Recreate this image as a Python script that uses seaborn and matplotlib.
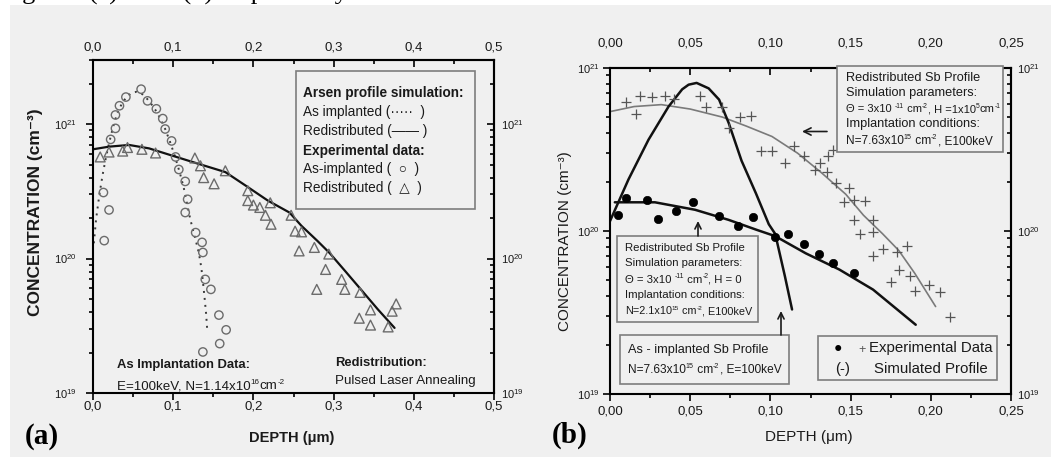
import numpy as np
import matplotlib
matplotlib.use("Agg")
import matplotlib.pyplot as plt
import seaborn as sns
from matplotlib.patches import Rectangle, FancyArrowPatch
from matplotlib.font_manager import FontProperties
from matplotlib.ticker import (FuncFormatter, LogLocator, NullFormatter,
                               MultipleLocator, LogFormatterSciNotation)

# ---------------- (a) arsenic profiles ----------------
# experimental, as-implanted (open circles)
a_impl_x = [0.014, 0.020, 0.013, 0.022, 0.028, 0.028, 0.033, 0.041, 0.060, 0.068,
            0.079, 0.087, 0.090, 0.098, 0.103, 0.107, 0.115, 0.118, 0.115, 0.128,
            0.136, 0.137, 0.140, 0.147, 0.157, 0.166, 0.158, 0.137]
a_impl_y = [1.36e20, 2.3e20, 3.1e20, 7.7e20, 9.3e20, 1.17e21, 1.37e21, 1.59e21, 1.82e21, 1.49e21,
            1.30e21, 1.10e21, 9.2e20, 7.5e20, 5.7e20, 4.6e20, 3.75e20, 2.76e20, 2.2e20, 1.56e20,
            1.32e20, 1.11e20, 7.0e19, 5.9e19, 3.8e19, 2.95e19, 2.33e19, 2.02e19]
# experimental, redistributed (open triangles)
a_redis_x = [0.009, 0.020, 0.037, 0.043, 0.061, 0.078, 0.127, 0.134, 0.138, 0.151,
             0.165, 0.193, 0.193, 0.200, 0.208, 0.221, 0.215, 0.222, 0.247, 0.252,
             0.260, 0.257, 0.276, 0.294, 0.290, 0.279, 0.310, 0.314, 0.333, 0.332,
             0.346, 0.346, 0.368, 0.373, 0.378]
a_redis_y = [5.7e20, 6.2e20, 6.3e20, 6.7e20, 6.5e20, 6.1e20, 5.6e20, 4.9e20, 4.0e20, 3.6e20,
             4.5e20, 3.2e20, 2.7e20, 2.5e20, 2.4e20, 2.6e20, 2.1e20, 1.8e20, 2.1e20, 1.6e20,
             1.58e20, 1.14e20, 1.21e20, 1.08e20, 8.3e19, 5.9e19, 7.0e19, 5.9e19, 5.6e19, 3.6e19,
             4.15e19, 3.2e19, 3.1e19, 4.06e19, 4.6e19]
# simulation, as implanted (dotted)
a_sim_impl_x = [0.001, 0.004, 0.008, 0.012, 0.016, 0.020, 0.025, 0.030, 0.036, 0.042,
                0.048, 0.054, 0.060, 0.066, 0.072, 0.078, 0.084, 0.090, 0.096, 0.102,
                0.108, 0.113, 0.117, 0.121, 0.125, 0.129, 0.132, 0.135, 0.137, 0.139,
                0.141, 0.1425]
a_sim_impl_y = [1.3e20, 2.0e20, 3.0e20, 4.2e20, 5.6e20, 7.2e20, 9.5e20, 1.2e21, 1.42e21, 1.6e21,
                1.7e21, 1.74e21, 1.7e21, 1.58e21, 1.43e21, 1.27e21, 1.1e21, 9.2e20, 7.4e20, 5.8e20,
                4.4e20, 3.4e20, 2.6e20, 2.0e20, 1.6e20, 1.3e20, 1.1e20, 8.6e19, 6.8e19, 5.2e19,
                3.9e19, 2.9e19]
# simulation, redistributed (solid)
a_sim_redis_x = [0.0, 0.02, 0.045, 0.07, 0.10, 0.13, 0.165, 0.19, 0.218, 0.245,
                 0.26, 0.28, 0.295, 0.315, 0.335, 0.355, 0.376]
a_sim_redis_y = [6.5e20, 6.8e20, 7.0e20, 6.6e20, 5.8e20, 5.1e20, 4.4e20, 3.5e20, 2.7e20, 2.2e20,
                 1.75e20, 1.35e20, 1.1e20, 8.0e19, 5.8e19, 4.2e19, 3.05e19]

# ---------------- (b) antimony profiles ----------------
b_dots_x = [0.005, 0.010, 0.023, 0.030, 0.041, 0.052, 0.068, 0.080, 0.089, 0.103,
            0.111, 0.121, 0.130, 0.139, 0.152]
b_dots_y = [1.26e20, 1.59e20, 1.56e20, 1.19e20, 1.32e20, 1.5e20, 1.24e20, 1.07e20, 1.22e20, 9.2e19,
            9.6e19, 8.3e19, 7.2e19, 6.4e19, 5.5e19]
b_cross_x = [0.010, 0.016, 0.019, 0.026, 0.034, 0.040, 0.056, 0.060, 0.070, 0.074,
             0.081, 0.088, 0.094, 0.101, 0.109, 0.115, 0.121, 0.128, 0.131, 0.135,
             0.136, 0.139, 0.141, 0.149, 0.146, 0.152, 0.159, 0.152, 0.164, 0.156,
             0.164, 0.164, 0.170, 0.179, 0.185, 0.180, 0.187, 0.175, 0.190, 0.199,
             0.206, 0.212]
b_cross_y = [6.15e20, 5.25e20, 6.7e20, 6.6e20, 6.7e20, 6.45e20, 6.7e20, 5.77e20, 5.77e20, 4.3e20,
             5.0e20, 5.1e20, 3.1e20, 3.1e20, 2.6e20, 3.3e20, 2.87e20, 2.38e20, 2.6e20, 2.3e20,
             2.87e20, 3.16e20, 1.97e20, 1.84e20, 1.5e20, 1.56e20, 1.52e20, 1.16e20, 1.16e20, 9.6e19,
             9.9e19, 7.0e19, 7.8e19, 7.4e19, 8.05e19, 5.8e19, 5.3e19, 4.87e19, 4.27e19, 4.64e19,
             4.2e19, 2.97e19]
b_impl_sim_x = [0.0, 0.0115, 0.024, 0.0365, 0.045, 0.049, 0.054, 0.0615, 0.068, 0.074,
                0.082, 0.091, 0.099, 0.103, 0.109, 0.1135]
b_impl_sim_y = [1.15e20, 2.07e20, 3.63e20, 5.8e20, 7.4e20, 7.9e20, 8.1e20, 7.5e20, 6.4e20, 4.6e20,
                2.7e20, 1.7e20, 1.1e20, 9.6e19, 5.3e19, 3.3e19]
b_h0_x = [0.003, 0.028, 0.053, 0.074, 0.091, 0.103, 0.122, 0.143, 0.164, 0.1906]
b_h0_y = [1.5e20, 1.5e20, 1.35e20, 1.17e20, 1.02e20, 9.3e19, 7.3e19, 5.8e19, 4.37e19, 2.66e19]
b_h_x = [0.0, 0.015, 0.032, 0.050, 0.070, 0.085, 0.101, 0.117, 0.132, 0.147,
         0.158, 0.170, 0.180, 0.190, 0.203]
b_h_y = [5.4e20, 5.8e20, 5.96e20, 5.6e20, 5.0e20, 4.4e20, 3.8e20, 3.0e20, 2.27e20, 1.68e20,
         1.25e20, 9.6e19, 7.6e19, 5.5e19, 3.44e19]

# ---------------- styling ----------------
sns.set_theme(style="ticks")
FAMILY = ["Liberation Sans", "DejaVu Sans"]
plt.rcParams["font.family"] = FAMILY
plt.rcParams["mathtext.fontset"] = "custom"
plt.rcParams["mathtext.rm"] = "Liberation Sans"
plt.rcParams["mathtext.it"] = "Liberation Sans:italic"
plt.rcParams["mathtext.bf"] = "Liberation Sans:bold"
plt.rcParams["mathtext.default"] = "regular"

BG = "#f0f0f0"
INK = "#1a1a1a"
W, H = 1051, 457
fig = plt.figure(figsize=(W / 100, H / 100), dpi=100)
fig.patch.set_facecolor("white")
renderer = fig.canvas.get_renderer()

M, S3 = "\u207b", "\u00b3"


def fx(px):
    return px / W


def fy(py):
    return 1 - py / H


fig.add_artist(Rectangle((fx(10), 0), 1, fy(5), transform=fig.transFigure,
                         facecolor=BG, edgecolor="none", zorder=-10))
fig.text(fx(0), fy(5), "Figure 2(a) and 2(b) respectively.", family="Liberation Serif",
         fontsize=19, va="bottom", ha="left", color="black")


def setup_axes(ax, xmax, xstep, xdec, ylim, pads):
    ax.set_facecolor(BG)
    ax.set_xlim(0, xmax)
    ax.set_yscale("log")
    ax.set_ylim(*ylim)
    fmt = FuncFormatter(lambda v, p: f"{v:.{xdec}f}".replace(".", ","))
    for sp in ax.spines.values():
        sp.set_linewidth(1.5)
        sp.set_color("black")
        sp.set_visible(True)
    ax.xaxis.set_major_locator(MultipleLocator(xstep))
    ax.xaxis.set_minor_locator(MultipleLocator(xstep / 2))
    ax.xaxis.set_major_formatter(fmt)
    ax.yaxis.set_major_locator(LogLocator(base=10, numticks=10))
    ax.yaxis.set_minor_locator(LogLocator(base=10, subs=np.arange(2, 10) * 1.0, numticks=10))
    ax.yaxis.set_minor_formatter(NullFormatter())
    ax.yaxis.set_major_formatter(LogFormatterSciNotation())
    ax.tick_params(which="both", direction="out", top=False, right=False,
                   width=1.2, color="black", labelcolor=INK)
    ax.tick_params(which="major", length=5)
    ax.tick_params(which="minor", length=3)
    ax.tick_params(axis="x", labelsize=9.5, pad=pads["bottom"])
    ax.tick_params(axis="y", labelsize=8, pad=pads["left"])

    sx = ax.secondary_xaxis("top")
    sx.xaxis.set_major_locator(MultipleLocator(xstep))
    sx.xaxis.set_minor_locator(MultipleLocator(xstep / 2))
    sx.xaxis.set_major_formatter(fmt)
    sx.tick_params(which="both", direction="in", width=1.2, color="black",
                   labelcolor=INK, labelsize=9.5, pad=pads["top"])
    sx.tick_params(which="major", length=5)
    sx.tick_params(which="minor", length=3)
    sx.spines["top"].set_linewidth(1.5)

    sy = ax.secondary_yaxis("right")
    sy.yaxis.set_major_locator(LogLocator(base=10, numticks=10))
    sy.yaxis.set_minor_locator(LogLocator(base=10, subs=np.arange(2, 10) * 1.0, numticks=10))
    sy.yaxis.set_major_formatter(LogFormatterSciNotation())
    sy.yaxis.set_minor_formatter(NullFormatter())
    sy.tick_params(which="both", direction="in", width=1.2, color="black",
                   labelcolor=INK, labelsize=8, pad=pads["right"])
    sy.tick_params(which="major", length=5)
    sy.tick_params(which="minor", length=3)
    sy.spines["right"].set_linewidth(1.5)
    ax.set_xlabel("")
    ax.set_ylabel("")


def box(x0, y0, x1, y1):
    fig.add_artist(Rectangle((fx(x0), fy(y1)), (x1 - x0) / W, (y1 - y0) / H,
                             transform=fig.transFigure, facecolor=BG,
                             edgecolor="#7d7d7d", linewidth=1.2, zorder=2.5))


def txt(px, py, s, **kw):
    kw.setdefault("ha", "left")
    kw.setdefault("va", "center")
    kw.setdefault("color", INK)
    kw.setdefault("zorder", 4)
    fig.text(fx(px), fy(py), s, **kw)


def _width(s, fp):
    w1, _, _ = renderer.get_text_width_height_descent("|" + s + "|", fp, ismath=False)
    w0, _, _ = renderer.get_text_width_height_descent("||", fp, ismath=False)
    return w1 - w0


def rich(px, py, s, fs, weight="normal"):
    """Text with ^{...} superscripts, laid out piece by piece; py is the line centre."""
    base = py + 0.33 * fs * 100 / 72
    x = px
    pieces = []
    for part in s.replace("}", "^").split("^{"):
        if "^" in part:
            sup, rest = part.split("^", 1)
            pieces.append((sup, True))
            if rest:
                pieces.append((rest, False))
        elif part:
            pieces.append((part, False))
    for piece, sup in pieces:
        size = fs * 0.6 if sup else fs
        fp = FontProperties(family=FAMILY, size=size, weight=weight)
        yy = base - (0.42 * fs * 100 / 72 if sup else 0)
        fig.text(fx(x), fy(yy), piece, fontproperties=fp, va="baseline", ha="left",
                 color=INK, zorder=4)
        x += _width(piece, fp)


def arrow(p0, p1, scale=11):
    fig.add_artist(FancyArrowPatch((fx(p0[0]), fy(p0[1])), (fx(p1[0]), fy(p1[1])),
                                   transform=fig.transFigure, arrowstyle="->",
                                   mutation_scale=scale, linewidth=1.2, color=INK,
                                   zorder=4, shrinkA=0, shrinkB=0))


# ---------------- panel (a) ----------------
ax_a = fig.add_axes([fx(93), fy(393), (494 - 93) / W, (393 - 60) / H])
ax_a.set_yscale("log")
sns.lineplot(x=a_sim_impl_x, y=a_sim_impl_y, ax=ax_a, sort=False, estimator=None,
             color="#3a3a3a", linewidth=1.4, linestyle=(0, (1, 2.6)))
sns.lineplot(x=a_sim_redis_x, y=a_sim_redis_y, ax=ax_a, sort=False, estimator=None,
             color="#111111", linewidth=1.6)
sns.scatterplot(x=a_impl_x, y=a_impl_y, ax=ax_a, marker="o", s=36,
                facecolor="none", edgecolor="#6b6b6b", linewidth=1.0, zorder=3)
sns.scatterplot(x=a_redis_x, y=a_redis_y, ax=ax_a, marker="^", s=50,
                facecolor="none", edgecolor="#6b6b6b", linewidth=1.0, zorder=3)
setup_axes(ax_a, 0.5, 0.1, 1, (1e19, 3e21),
           dict(bottom=0.5, top=4.5, left=7, right=5))

box(296, 71, 475, 209)
fs_a = 9.8
txt(303, 93, "Arsen profile simulation:", fontsize=fs_a, weight="bold")
txt(303, 112, "As implanted (\u00b7\u00b7\u00b7\u00b7\u00b7  )", fontsize=fs_a)
txt(303, 131, "Redistributed (\u2014\u2014 )", fontsize=fs_a)
txt(303, 151, "Experimental data:", fontsize=fs_a, weight="bold")
txt(303, 169, "As-implanted (  \u25cb  )", fontsize=fs_a)
txt(303, 188, "Redistributed (  \u25b3  )", fontsize=fs_a)

txt(117, 365, "As Implantation Data:", fontsize=9.4, weight="bold")
rich(117, 385, "E=100keV, N=1.14x10^{16}cm^{-2}", 9.6)
txt(335, 363, "Redistribution:", fontsize=9.4, weight="bold")
txt(335, 381, "Pulsed Laser Annealing", fontsize=9.6)

txt(36, 212, f"CONCENTRATION (cm{M}{S3})", fontsize=12.5, weight="bold",
    rotation=90, ha="center")
txt(292, 438, "DEPTH (\u03bcm)", fontsize=10.5, weight="bold", ha="center")
txt(42, 436, "(a)", fontsize=21, weight="bold", family="Liberation Serif",
    ha="center", color="black")

# ---------------- panel (b) ----------------
ax_b = fig.add_axes([fx(610), fy(394), (1011 - 610) / W, (394 - 68) / H])
ax_b.set_yscale("log")
sns.lineplot(x=b_h_x, y=b_h_y, ax=ax_b, sort=False, estimator=None,
             color="#7a7a7a", linewidth=1.2)
sns.lineplot(x=b_impl_sim_x, y=b_impl_sim_y, ax=ax_b, sort=False, estimator=None,
             color="#111111", linewidth=1.8)
sns.lineplot(x=b_h0_x, y=b_h0_y, ax=ax_b, sort=False, estimator=None,
             color="#111111", linewidth=1.8)
sns.scatterplot(x=b_cross_x, y=b_cross_y, ax=ax_b, marker="+", s=48,
                color="#555555", linewidth=0.9, zorder=3)
sns.scatterplot(x=b_dots_x, y=b_dots_y, ax=ax_b, marker="o", s=36,
                color="black", edgecolor="black", linewidth=0.5, zorder=3)
setup_axes(ax_b, 0.25, 0.05, 2, (1e19, 1e21),
           dict(bottom=3, top=13, left=2, right=4))

box(837, 66, 1003, 152)
fs_b1 = 9.2
txt(846, 78, "Redistributed Sb Profile", fontsize=fs_b1)
txt(846, 93, "Simulation parameters:", fontsize=fs_b1)
rich(846, 108.5, "\u0398 = 3x10 ^{-11} cm^{-2}, H =1x10^{5}cm^{-1}", 8.0)
txt(846, 124.5, "Implantation conditions:", fontsize=fs_b1)
rich(846, 140.5, "N=7.63x10^{15} cm^{-2}, E100keV", 8.6)
arrow((827, 131.5), (802, 131.5), scale=13)

box(617, 236, 758, 322)
fs_b2 = 8.2
txt(625, 248, "Redistributed Sb Profile", fontsize=fs_b2)
txt(625, 263.5, "Simulation parameters:", fontsize=fs_b2)
rich(625, 279, "\u0398 = 3x10 ^{-11} cm^{-2}, H = 0", fs_b2)
txt(625, 295, "Implantation conditions:", fontsize=fs_b2)
rich(625, 310.5, "N=2.1x10^{15} cm^{-2}, E100keV", 7.8)
arrow((698, 236), (698, 221))

box(620, 335, 789, 384)
txt(628, 350, "As - implanted Sb Profile", fontsize=9.2)
rich(628, 369, "N=7.63x10^{15} cm^{-2}, E=100keV", 8.6)
arrow((781, 335), (781, 311))

box(818, 336, 997, 380)
txt(838, 348, "\u25cf", fontsize=10, ha="center", color="black")
txt(862, 350, "+", fontsize=9, ha="center", color="#555555")
txt(869, 348, "Experimental Data", fontsize=10.8)
txt(843, 369, "(-)", fontsize=10.8, ha="center")
txt(874, 369, "Simulated Profile", fontsize=10.8)

txt(565, 241, f"CONCENTRATION (cm{M}{S3})", fontsize=11, rotation=90, ha="center")
txt(809, 437, "DEPTH (\u03bcm)", fontsize=11, ha="center")
txt(570, 435, "(b)", fontsize=21, weight="bold", family="Liberation Serif",
    ha="center", color="black")

fig.savefig("out.png", dpi=100, facecolor=fig.get_facecolor())
